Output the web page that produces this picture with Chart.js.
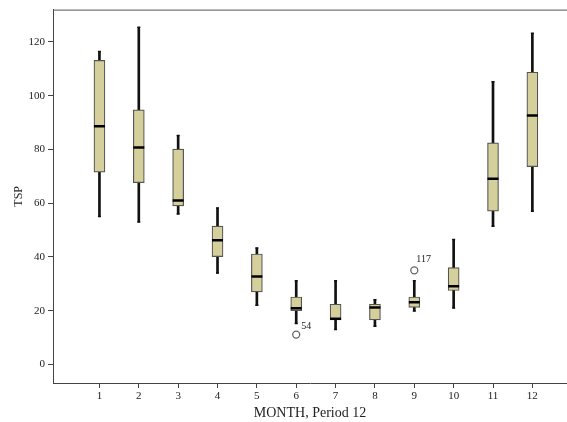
<!DOCTYPE html>
<html>
<head>
<meta charset="utf-8">
<script src="https://cdn.jsdelivr.net/npm/chart.js@4.4.1/dist/chart.umd.min.js"></script>
<style>
  body { margin: 0; background: #fff; }
  #wrap { width: 567px; height: 422px; }
</style>
</head>
<body>
<div id="wrap"><canvas id="boxChart" width="567" height="422"></canvas></div>
<script>
// months on the x axis
var months = [1, 2, 3, 4, 5, 6, 7, 8, 9, 10, 11, 12];
var yTicks = [0, 20, 40, 60, 80, 100, 120];

// box plot statistics per month
var whiskerLow  = [55, 53, 56, 34, 22, 15.2, 13, 14.2, 19.9, 21, 51.4, 57];
var q1          = [71.5, 67.6, 59, 40.1, 27, 20, 16.6, 16.6, 21.2, 27.5, 57, 73.6];
var median      = [88.6, 80.7, 61, 46.2, 32.7, 20.9, 17, 21.2, 23.1, 29.1, 69.1, 92.6];
var q3          = [113.1, 94.7, 80.1, 51.5, 41.1, 25.1, 22.4, 22.4, 25.1, 36, 82.4, 108.7];
var whiskerHigh = [116.4, 125.4, 85.2, 58.2, 43.3, 31.1, 31.1, 24.1, 31.1, 46.5, 105.2, 123.2];

// outliers
var outlierMonths = [6, 9];
var outlierValues = [11.1, 35];
var outlierLabels = ["54", "117"];

var serif = "'Liberation Serif', 'Times New Roman', serif";

function pairs(a, b) {
    return months.map(function (m, i) { return { x: m, y: [a[i], b[i]] }; });
}
function points(vals) {
    return months.map(function (m, i) { return { x: m, y: vals[i] }; });
}

// top frame line + outlier case labels
var extras = {
    id: "extras",
    afterDatasetsDraw: function (chart) {
        var c = chart.ctx, a = chart.chartArea;
        c.save();
        c.strokeStyle = "#555";
        c.lineWidth = 1;
        c.beginPath();
        c.moveTo(a.left, a.top + 0.5);
        c.lineTo(a.right, a.top + 0.5);
        c.stroke();
        var meta = chart.getDatasetMeta(5);
        c.fillStyle = "#222";
        c.font = "10px " + serif;
        c.textBaseline = "middle";
        meta.data.forEach(function (pt, i) {
            if (i === 0) c.fillText(outlierLabels[i], pt.x + 5, pt.y - 8);
            else c.fillText(outlierLabels[i], pt.x + 2, pt.y - 11);
        });
        c.restore();
    }
};

var ctx = document.getElementById("boxChart").getContext("2d");

var myChart = new Chart(ctx, {
    type: "bar",
    data: {
        datasets: [
            {
                label: "whisker",
                data: pairs(whiskerLow, whiskerHigh),
                backgroundColor: "#111",
                barThickness: 2,
                grouped: false,
                order: 3
            },
            {
                label: "box",
                data: pairs(q1, q3),
                backgroundColor: "#d5d09b",
                borderColor: "#555",
                borderWidth: 1.2,
                borderSkipped: false,
                barThickness: 11,
                grouped: false,
                order: 2
            },
            {
                type: "scatter",
                label: "median",
                data: points(median),
                pointStyle: "line",
                pointRadius: 5.5,
                borderColor: "#000",
                borderWidth: 2.5,
                order: 1
            },
            {
                type: "scatter",
                label: "capLow",
                data: points(whiskerLow),
                pointStyle: "line",
                pointRadius: 1.5,
                borderColor: "#111",
                borderWidth: 1.5,
                order: 1
            },
            {
                type: "scatter",
                label: "capHigh",
                data: points(whiskerHigh),
                pointStyle: "line",
                pointRadius: 1.5,
                borderColor: "#111",
                borderWidth: 1.5,
                order: 1
            },
            {
                type: "scatter",
                label: "outliers",
                data: outlierMonths.map(function (m, i) { return { x: m, y: outlierValues[i] }; }),
                pointStyle: "circle",
                pointRadius: 3.5,
                borderColor: "#666",
                borderWidth: 1.3,
                backgroundColor: "#fff",
                order: 0
            }
        ]
    },
    options: {
        responsive: false,
        animation: false,
        events: [],
        layout: { autoPadding: false, padding: { top: 9, right: 0, left: 0, bottom: 0 } },
        plugins: {
            legend: { display: false },
            tooltip: { enabled: false }
        },
        scales: {
            x: {
                type: "linear",
                min: -0.18,
                max: 12.88,
                offset: false,
                afterBuildTicks: function (scale) {
                    scale.ticks = months.map(function (m) { return { value: m }; });
                },
                afterFit: function (scale) {
                    scale.height = 39;
                    scale.paddingLeft = 0;
                    scale.paddingRight = 0;
                },
                grid: { drawOnChartArea: false, offset: false, tickLength: 5, color: "#444" },
                border: { color: "#444", width: 1 },
                ticks: {
                    color: "#222",
                    padding: 2,
                    maxRotation: 0,
                    font: { family: serif, size: 11 }
                },
                title: {
                    display: true,
                    text: "MONTH, Period 12",
                    color: "#222",
                    padding: { top: 0, bottom: 0 },
                    font: { family: serif, size: 14 }
                }
            },
            y: {
                min: -6.9,
                max: 132,
                afterBuildTicks: function (scale) {
                    scale.ticks = yTicks.map(function (v) { return { value: v }; });
                },
                afterFit: function (scale) { scale.width = 53; },
                grid: { drawOnChartArea: false, tickLength: 5, color: "#444" },
                border: { color: "#444", width: 1 },
                ticks: {
                    color: "#222",
                    padding: 3,
                    font: { family: serif, size: 11 }
                },
                title: {
                    display: true,
                    text: "TSP",
                    color: "#222",
                    padding: { top: 12, bottom: 0 },
                    font: { family: serif, size: 12 }
                }
            }
        }
    },
    plugins: [extras]
});
</script>
</body>
</html>
